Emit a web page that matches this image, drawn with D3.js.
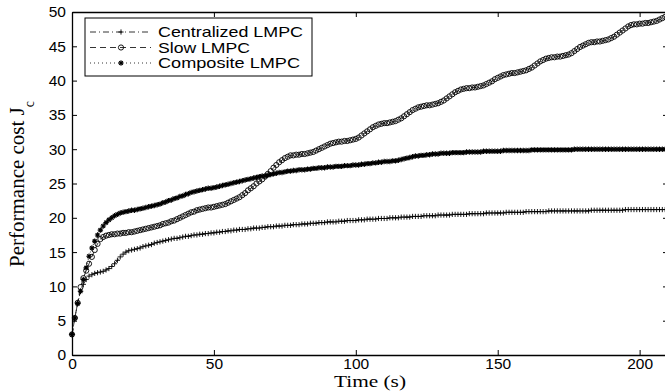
<!DOCTYPE html>
<html>
<head>
<meta charset="utf-8">
<script src="https://cdn.jsdelivr.net/npm/d3@7"></script>
<style>
  body { margin: 0; background: #fff; }
  svg { display: block; }
  .tick text { font-family: "Liberation Sans", Arial, sans-serif; font-size: 15.5px; fill: #000; }
  .axis path, .axis line { stroke: #000; }
</style>
</head>
<body>
<div id="chart"></div>
<script>
const W = 665, H = 391;

// sample grid (s)
const time = d3.range(0, 211);
const xTicks = [0, 50, 100, 150, 200];
const yTicks = [0, 5, 10, 15, 20, 25, 30, 35, 40, 45, 50];

const centralized = [
  3.0, 5.4, 7.6, 9.3, 10.3, 11.0, 11.5, 11.7, 11.9, 12.0,
  12.1, 12.2, 12.4, 12.6, 12.9, 13.3, 13.8, 14.3, 14.7, 15.0,
  15.2, 15.3, 15.4, 15.5, 15.6, 15.8, 15.9, 16.0, 16.1, 16.3,
  16.4, 16.5, 16.6, 16.7, 16.8, 16.9, 17.0, 17.0, 17.1, 17.2,
  17.3, 17.3, 17.4, 17.5, 17.5, 17.6, 17.6, 17.7, 17.7, 17.8,
  17.8, 17.9, 17.9, 18.0, 18.0, 18.1, 18.1, 18.2, 18.2, 18.3,
  18.3, 18.3, 18.4, 18.4, 18.5, 18.5, 18.5, 18.6, 18.6, 18.7,
  18.7, 18.7, 18.8, 18.8, 18.8, 18.9, 18.9, 18.9, 19.0, 19.0,
  19.0, 19.1, 19.1, 19.1, 19.2, 19.2, 19.2, 19.3, 19.3, 19.3,
  19.4, 19.4, 19.4, 19.4, 19.5, 19.5, 19.5, 19.6, 19.6, 19.6,
  19.6, 19.7, 19.7, 19.7, 19.8, 19.8, 19.8, 19.8, 19.9, 19.9,
  19.9, 19.9, 20.0, 20.0, 20.0, 20.0, 20.1, 20.1, 20.1, 20.1,
  20.2, 20.2, 20.2, 20.2, 20.3, 20.3, 20.3, 20.3, 20.3, 20.4,
  20.4, 20.4, 20.4, 20.4, 20.5, 20.5, 20.5, 20.5, 20.5, 20.5,
  20.6, 20.6, 20.6, 20.6, 20.6, 20.6, 20.7, 20.7, 20.7, 20.7,
  20.7, 20.7, 20.7, 20.8, 20.8, 20.8, 20.8, 20.8, 20.8, 20.8,
  20.9, 20.9, 20.9, 20.9, 20.9, 20.9, 20.9, 20.9, 21.0, 21.0,
  21.0, 21.0, 21.0, 21.0, 21.0, 21.0, 21.0, 21.0, 21.0, 21.0,
  21.0, 21.0, 21.0, 21.1, 21.1, 21.1, 21.1, 21.1, 21.1, 21.1,
  21.1, 21.1, 21.1, 21.1, 21.1, 21.2, 21.2, 21.2, 21.2, 21.2,
  21.2, 21.2, 21.2, 21.2, 21.2, 21.2, 21.2, 21.2, 21.2, 21.2,
  21.2
];

const slow = [
  3.0, 5.4, 7.6, 9.9, 11.2, 12.3, 13.3, 14.3, 15.3, 16.2,
  16.9, 17.2, 17.4, 17.5, 17.6, 17.6, 17.7, 17.7, 17.8, 17.8,
  17.9, 17.9, 18.0, 18.1, 18.2, 18.3, 18.4, 18.5, 18.6, 18.7,
  18.8, 18.9, 19.1, 19.2, 19.3, 19.5, 19.6, 19.8, 20.0, 20.2,
  20.4, 20.6, 20.8, 20.9, 21.1, 21.2, 21.3, 21.4, 21.5, 21.5,
  21.6, 21.7, 21.8, 21.9, 22.0, 22.2, 22.4, 22.6, 22.8, 23.0,
  23.3, 23.6, 24.0, 24.3, 24.6, 25.0, 25.3, 25.6, 26.0, 26.4,
  26.8, 27.3, 27.7, 28.1, 28.4, 28.7, 28.9, 29.1, 29.1, 29.2,
  29.2, 29.3, 29.3, 29.4, 29.5, 29.6, 29.8, 30.0, 30.2, 30.4,
  30.6, 30.8, 30.9, 31.0, 31.1, 31.1, 31.2, 31.2, 31.3, 31.4,
  31.5, 31.7, 32.0, 32.3, 32.6, 32.9, 33.2, 33.4, 33.6, 33.7,
  33.8, 33.8, 33.9, 34.0, 34.1, 34.3, 34.5, 34.8, 35.1, 35.4,
  35.7, 35.9, 36.1, 36.2, 36.3, 36.4, 36.4, 36.5, 36.6, 36.7,
  36.9, 37.1, 37.4, 37.7, 38.0, 38.3, 38.5, 38.7, 38.8, 38.9,
  38.9, 39.0, 39.0, 39.1, 39.2, 39.3, 39.5, 39.7, 39.9, 40.2,
  40.4, 40.6, 40.8, 40.9, 41.0, 41.1, 41.1, 41.2, 41.3, 41.4,
  41.5, 41.7, 41.9, 42.2, 42.5, 42.8, 43.0, 43.2, 43.3, 43.4,
  43.4, 43.5, 43.5, 43.6, 43.7, 43.8, 44.0, 44.3, 44.6, 44.9,
  45.1, 45.3, 45.5, 45.6, 45.6, 45.7, 45.7, 45.8, 45.9, 46.0,
  46.2, 46.4, 46.7, 47.0, 47.3, 47.6, 47.9, 48.1, 48.2, 48.2,
  48.3, 48.3, 48.4, 48.4, 48.5, 48.6, 48.7, 48.9, 49.1, 49.3,
  49.5
];

const composite = [
  3.0, 5.4, 7.5, 9.3, 11.0, 12.7, 14.4, 15.6, 16.6, 17.5,
  18.2, 18.8, 19.3, 19.7, 20.0, 20.3, 20.5, 20.7, 20.8, 20.9,
  21.0, 21.1, 21.1, 21.2, 21.3, 21.4, 21.5, 21.6, 21.7, 21.8,
  21.9, 22.0, 22.2, 22.3, 22.5, 22.6, 22.8, 22.9, 23.1, 23.2,
  23.4, 23.5, 23.7, 23.8, 23.9, 24.0, 24.1, 24.2, 24.3, 24.3,
  24.4, 24.5, 24.6, 24.7, 24.8, 24.9, 25.0, 25.1, 25.2, 25.3,
  25.4, 25.5, 25.6, 25.7, 25.8, 25.9, 26.0, 26.1, 26.1, 26.2,
  26.3, 26.4, 26.5, 26.6, 26.6, 26.7, 26.8, 26.8, 26.9, 26.9,
  27.0, 27.0, 27.0, 27.1, 27.1, 27.2, 27.2, 27.3, 27.3, 27.3,
  27.4, 27.4, 27.4, 27.5, 27.5, 27.5, 27.6, 27.6, 27.6, 27.7,
  27.7, 27.7, 27.8, 27.8, 27.9, 27.9, 28.0, 28.0, 28.1, 28.1,
  28.2, 28.2, 28.2, 28.3, 28.3, 28.4, 28.5, 28.6, 28.7, 28.8,
  28.9, 29.0, 29.0, 29.1, 29.1, 29.2, 29.2, 29.3, 29.3, 29.3,
  29.4, 29.4, 29.4, 29.4, 29.5, 29.5, 29.5, 29.5, 29.5, 29.6,
  29.6, 29.6, 29.6, 29.6, 29.6, 29.7, 29.7, 29.7, 29.7, 29.7,
  29.7, 29.7, 29.8, 29.8, 29.8, 29.8, 29.8, 29.8, 29.8, 29.8,
  29.8, 29.8, 29.9, 29.9, 29.9, 29.9, 29.9, 29.9, 29.9, 29.9,
  29.9, 29.9, 29.9, 29.9, 29.9, 29.9, 29.9, 30.0, 30.0, 30.0,
  30.0, 30.0, 30.0, 30.0, 30.0, 30.0, 30.0, 30.0, 30.0, 30.0,
  30.0, 30.0, 30.0, 30.0, 30.0, 30.0, 30.0, 30.0, 30.0, 30.0,
  30.0, 30.0, 30.0, 30.0, 30.0, 30.0, 30.0, 30.0, 30.0, 30.0,
  30.1
];

const seriesNames = ["Centralized LMPC", "Slow LMPC", "Composite LMPC"];

// marker shapes, matlab style
const plusPath = "M-2.6,0H2.6M0,-2.6V2.6";
const starPath = "M-2.7,0H2.7M0,-2.7V2.7M-1.9,-1.9L1.9,1.9M-1.9,1.9L1.9,-1.9";

const series = [
  { name: seriesNames[0], values: centralized, dash: "6,3,1,3", marker: "plus" },
  { name: seriesNames[1], values: slow, dash: "6,4", marker: "circle" },
  { name: seriesNames[2], values: composite, dash: "1,3", marker: "star" }
];

// plot box (right edge falls just outside the window, like the original)
const margin = { top: 12, right: -3, bottom: 36, left: 72 };
const width = W - margin.left - margin.right;
const height = H - margin.top - margin.bottom;

const x = d3.scaleLinear().domain([0, 210]).range([0, width]);
const y = d3.scaleLinear().domain([0, 50]).range([height, 0]);

const svg = d3.select("#chart").append("svg")
  .attr("width", W)
  .attr("height", H);

const g = svg.append("g")
  .attr("transform", "translate(" + margin.left + "," + margin.top + ")");

// axes, ticks pointing inward
g.append("g")
  .attr("class", "axis")
  .attr("transform", "translate(0," + height + ")")
  .call(d3.axisBottom(x).tickValues(xTicks).tickSizeInner(-5).tickSizeOuter(0).tickPadding(3));

g.append("g")
  .attr("class", "axis")
  .call(d3.axisTop(x).tickValues(xTicks).tickSizeInner(-5).tickSizeOuter(0).tickFormat(""));

g.append("g")
  .attr("class", "axis")
  .call(d3.axisLeft(y).tickValues(yTicks).tickSizeInner(-5).tickSizeOuter(0).tickPadding(6));

g.append("g")
  .attr("class", "axis")
  .attr("transform", "translate(" + width + ",0)")
  .call(d3.axisRight(y).tickValues(yTicks).tickSizeInner(-5).tickSizeOuter(0).tickFormat(""));

g.selectAll(".axis path").attr("stroke-width", 1.3);
g.selectAll(".axis line").attr("stroke-width", 1);

// lines + markers
const line = d3.line()
  .x((d, i) => x(time[i]))
  .y(d => y(d));

function drawMarker(sel, type) {
  if (type === "circle") {
    sel.append("circle").attr("r", 2.6)
      .attr("fill", "none").attr("stroke", "#000").attr("stroke-width", 0.9);
  } else {
    sel.append("path").attr("d", type === "plus" ? plusPath : starPath)
      .attr("fill", "none").attr("stroke", "#000")
      .attr("stroke-width", type === "plus" ? 0.9 : 1.1);
  }
}

series.forEach(s => {
  g.append("path")
    .datum(s.values)
    .attr("fill", "none")
    .attr("stroke", "#000")
    .attr("stroke-width", 0.8)
    .attr("stroke-dasharray", s.dash)
    .attr("d", line);

  const pts = g.append("g").selectAll("g")
    .data(s.values)
    .join("g")
    .attr("transform", (d, i) => "translate(" + x(time[i]) + "," + y(d) + ")");
  drawMarker(pts, s.marker);
});

// axis titles
svg.append("text")
  .attr("x", margin.left + x(105))
  .attr("y", 387)
  .attr("text-anchor", "middle")
  .attr("textLength", 72)
  .attr("lengthAdjust", "spacingAndGlyphs")
  .style("font-family", "'Liberation Serif', 'Times New Roman', serif")
  .style("font-size", "17px")
  .text("Time (s)");

const ylab = svg.append("text")
  .attr("transform", "translate(24," + 184 + ") rotate(-90)")
  .attr("text-anchor", "middle")
  .style("font-family", "'Liberation Serif', 'Times New Roman', serif")
  .style("font-size", "21px");
ylab.append("tspan").text("Performance cost J");
ylab.append("tspan").attr("dy", 10).style("font-size", "14px").text("c");

// legend
const legend = svg.append("g").attr("transform", "translate(85,18)");
legend.append("rect")
  .attr("width", 227).attr("height", 58)
  .attr("fill", "#fff").attr("stroke", "#000").attr("stroke-width", 1);

const rowY = [14, 29.5, 45];
series.forEach((s, i) => {
  const row = legend.append("g").attr("transform", "translate(0," + rowY[i] + ")");
  row.append("line")
    .attr("x1", 5).attr("x2", 66)
    .attr("stroke", "#000").attr("stroke-width", 0.8)
    .attr("stroke-dasharray", s.dash);
  const m = row.append("g").attr("transform", "translate(36,0)");
  drawMarker(m, s.marker);
  row.append("text")
    .attr("x", 73).attr("y", 5)
    .attr("textLength", [145, 92, 142][i])
    .attr("lengthAdjust", "spacingAndGlyphs")
    .style("font-family", "'Liberation Sans', Arial, sans-serif")
    .style("font-size", "15px")
    .text(s.name);
});
</script>
</body>
</html>
